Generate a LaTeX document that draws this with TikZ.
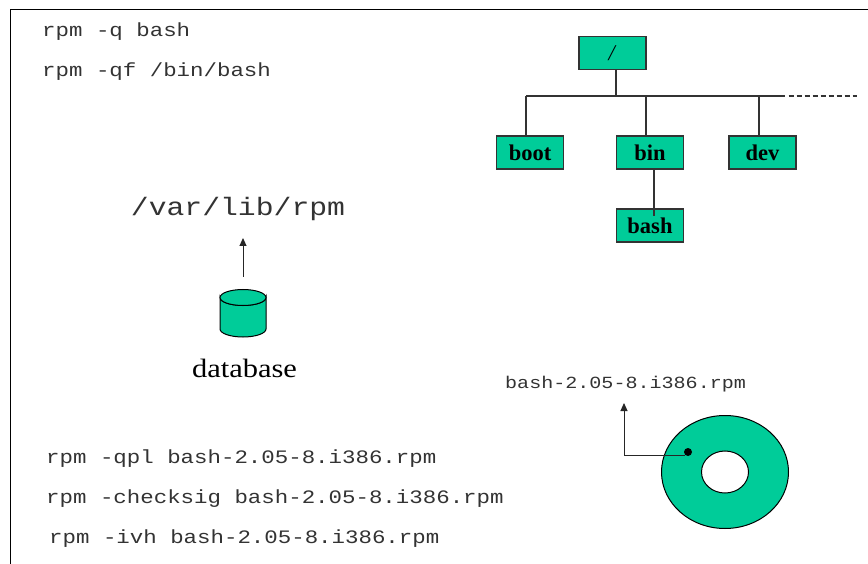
\documentclass[tikz,border=0pt]{standalone}
\usepackage{fontspec}
\usetikzlibrary{shapes.geometric,arrows.meta}
\setmainfont{Liberation Serif}
\newfontfamily\cmdfont[FakeStretch=1.18]{Liberation Mono}
\newfontfamily\labelfont[FakeStretch=1.15]{Liberation Serif}
\definecolor{rpmgreen}{HTML}{00CC99}
\definecolor{edge}{HTML}{333333}
\tikzset{
  x=1pt,y=-1pt,
  dirbox/.style={draw=edge,line width=1.2pt,fill=rpmgreen,minimum width=67pt,minimum height=33pt,inner sep=0pt,font=\fontsize{22.5}{24}\selectfont\bfseries,text=black},
  cmd/.style={anchor=base west,inner sep=0pt,font=\cmdfont\fontsize{19}{21}\selectfont,text=black!80},
  treeline/.style={draw=edge,line width=1.1pt},
  arrowline/.style={draw=black!85,line width=1pt,-{Triangle[length=8pt,width=7pt]}},
  solidshape/.style={draw=black,line width=1pt,fill=rpmgreen},
}
\begin{document}
\begin{tikzpicture}
\useasboundingbox (0,0) rectangle (868,564);
\fill[white] (0,0) rectangle (868,564);
% frame
\coordinate (frameBL) at (10,564);
\coordinate (frameTL) at (10,9.5);
\coordinate (frameTR) at (868,9.5);
\draw[black,line width=1pt] (frameBL) -- (frameTL) -- (frameTR);
% commands
\node[cmd] (q1) at (42,37) {rpm -q bash};
\node[cmd] (q2) at (42,77) {rpm -qf /bin/bash};
\node[cmd] (c1) at (46,463) {rpm -qpl bash-2.05-8.i386.rpm};
\node[cmd] (c2) at (46,503) {rpm -checksig bash-2.05-8.i386.rpm};
\node[cmd] (c3) at (49,543) {rpm -ivh bash-2.05-8.i386.rpm};
% tree
\node[dirbox] (root) at (612.5,53) {\textit{\mdseries /}};
\node[dirbox] (boot) at (530,152.5) {boot};
\node[dirbox] (bin) at (650,152.5) {bin};
\node[dirbox] (dev) at (762.5,152.5) {dev};
\node[dirbox] (bash) at (650,225.5) {bash};
\coordinate (jroot) at (616,96);
\coordinate (jboot) at (526,96);
\coordinate (jbin) at (646,96);
\coordinate (jdev) at (759,96);
\coordinate (jsolid) at (785,96);
\coordinate (jdashstart) at (788.5,96);
\coordinate (jdash) at (857,96);
\coordinate (jbashtop) at (654,169);
\coordinate (jbashend) at (654,216);
\draw[treeline] (root.south -| jroot) -- (jroot);
\draw[treeline] (jboot) -- (jsolid);
\draw[treeline,dash pattern=on 5.5pt off 2.5pt] (jdashstart) -- (jdash);
\draw[treeline] (jboot) -- (boot.north -| jboot);
\draw[treeline] (jbin) -- (bin.north -| jbin);
\draw[treeline] (jdev) -- (dev.north -| jdev);
\draw[treeline] (jbashtop) -- (jbashend);
% database
\node[anchor=base,inner sep=0pt,font=\cmdfont\fontsize{25.2}{27}\selectfont,text=black!80] (varlib) at (238,216) {/var/lib/rpm};
\coordinate (dbtop) at (243,297.5);
\path[solidshape] (220,297.5) -- (220,329) arc[start angle=180,end angle=0,x radius=23,y radius=8] -- (266,297.5) arc[start angle=0,end angle=180,x radius=23,y radius=8] -- cycle;
\draw[solidshape] (dbtop) ellipse[x radius=23,y radius=8];
\node[anchor=base,inner sep=0pt,font=\labelfont\fontsize{26.5}{28}\selectfont,text=black] (dblabel) at (244.5,377.5) {database};
\coordinate (dbarrowstart) at (243,277);
\coordinate (dbarrowend) at (243,238);
\draw[arrowline] (dbarrowstart) -- (dbarrowend);
% disk
\node[anchor=base west,inner sep=0pt,font=\cmdfont\fontsize{17}{19}\selectfont,text=black!80] (pkg) at (505,388) {bash-2.05-8.i386.rpm};
\node[solidshape,ellipse,minimum width=127pt,minimum height=113pt,inner sep=0pt,outer sep=0pt] (disk) at (725,472) {};
\node[draw=black,line width=1pt,fill=white,ellipse,minimum width=47pt,minimum height=42pt,inner sep=0pt,outer sep=0pt] (hole) at (725,472) {};
\node[fill=black,circle,minimum size=8pt,inner sep=0pt] (dot) at (688,452) {};
\coordinate (bend) at (624,455);
\coordinate (pkgarrow) at (624,403);
\draw[arrowline] (dot.south west |- bend) -- (bend) -- (pkgarrow);
\end{tikzpicture}
\end{document}
